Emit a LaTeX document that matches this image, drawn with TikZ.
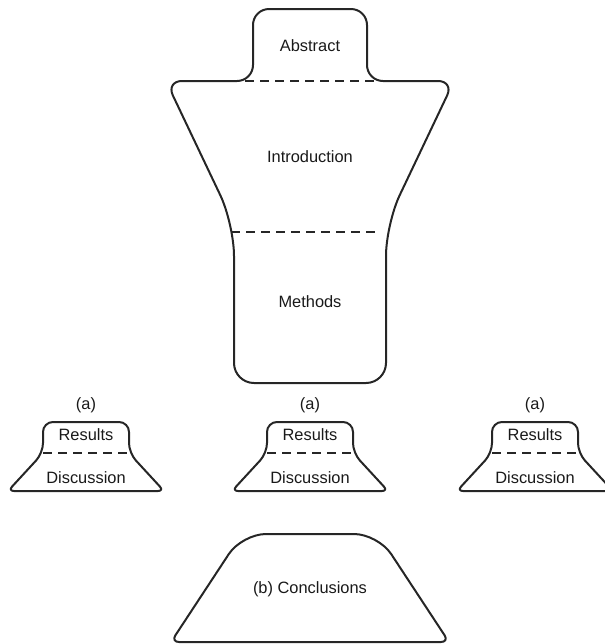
\documentclass[tikz,border=0pt]{standalone}
\usepackage{fontspec}
\setmainfont{Liberation Sans}
\begin{document}
\begin{tikzpicture}[
    x=0.5pt, y=-0.5pt,
    outline/.style={draw=black!85, line width=1pt, line join=round},
    divider/.style={draw=black!85, line width=1.1pt, dash pattern=on 4.5pt off 3pt},
    txt/.style={font=\fontsize{8.2}{10}\selectfont, text=black!90, inner sep=0pt}
]
\useasboundingbox (0,0) rectangle (605,644);

% main body: abstract, introduction, methods
\draw[outline] (310,9) [rounded corners=8pt] -- (253,9) -- (253,81) -- (166,81)
    [rounded corners=16pt] -- (234,224) [rounded corners=10pt] -- (234,383) -- (386,383)
    [rounded corners=16pt] -- (386,224) [rounded corners=8pt] -- (454,81) -- (367,81) -- (367,9) -- cycle;
\draw[divider] (245,81) -- (375,81);
\draw[divider] (231,232) -- (379,232);
\node[txt] (abstract) at (310,46) {Abstract};
\node[txt] (intro) at (310,157) {Introduction};
\node[txt] (methods) at (310,302) {Methods};

% results / discussion blocks
\foreach \cx/\i in {86/1, 310/2, 535/3} {
  \draw[outline, rounded corners=5pt] (\cx,422) -- (\cx-43,422) -- (\cx-43,453)
      [rounded corners=3pt] -- (\cx-78,491) -- (\cx+78,491) [rounded corners=5pt] -- (\cx+43,453) -- (\cx+43,422) -- cycle;
  \draw[divider] (\cx-43,453) -- (\cx+43,453);
  \node[txt] (tag\i) at (\cx,405) {(a)};
  \node[txt] (results\i) at (\cx,435) {Results};
  \node[txt] (discussion\i) at (\cx,478) {Discussion};
}

% conclusions
\draw[outline] (310,534) [rounded corners=12pt] -- (242,534) [rounded corners=4pt] -- (171,642) -- (449,642)
    [rounded corners=12pt] -- (378,534) -- cycle;
\node[txt] (conclusions) at (310,589) {(b) Conclusions};
\end{tikzpicture}
\end{document}
